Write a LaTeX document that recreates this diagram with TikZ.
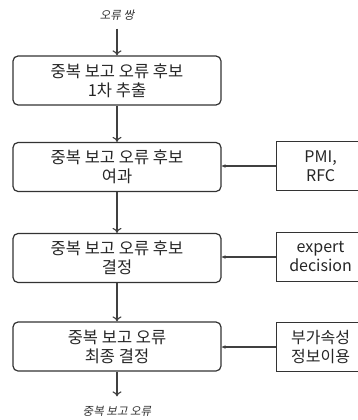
\documentclass[tikz,border=0pt]{standalone}
\usepackage{fontspec}
\setmainfont{Noto Sans CJK KR}
\newfontfamily\krslant[FakeSlant=0.2]{Noto Sans CJK KR}
\usetikzlibrary{arrows.meta}

\begin{document}
\begin{tikzpicture}[x=1pt,y=-1pt,
  stepbox/.style={draw=black!80,line width=1.2pt,rounded corners=5pt,minimum width=208pt,
    minimum height=49pt,align=center,text=black!85,font=\fontsize{16.5}{19}\selectfont},
  infobox/.style={draw=black!80,line width=1.2pt,minimum width=88pt,minimum height=49pt,
    anchor=west,align=center,text=black!85,font=\fontsize{16}{19}\selectfont,
    text width=80pt},
  endlabel/.style={text=black!80,font=\krslant\fontsize{11.5}{13}\selectfont},
  flow/.style={-{To[length=5pt,width=9pt]},draw=black!75,line width=1.1pt},
  feed/.style={-{Stealth[length=4pt,width=3.5pt]},draw=black!75,line width=1.1pt}]
\useasboundingbox (0,0) rectangle (358,420);
\clip (0,0) rectangle (358,420);
\node [endlabel] (pair) at (117,15) {오류 쌍};
\node [stepbox] (first) at (117,80.5) {중복 보고 오류 후보\\1차 추출};
\node [stepbox] (filter) at (117,167) {중복 보고 오류 후보\\여과};
\node [stepbox] (decide) at (117,258) {중복 보고 오류 후보\\결정};
\node [stepbox] (final) at (117,346.5) {중복 보고 오류\\최종 결정};
\node [endlabel] (result) at (117,411) {중복 보고 오류};
\node [infobox] (pmi) at (276,166) {PMI,\\RFC};
\node [infobox] (expert) at (276,257) {expert\\decision};
\node [infobox] (extra) at (276,347) {부가속성\\정보이용};
\draw [flow,shorten <=5pt] (pair.south) -- (first.north);
\draw [flow] (first) -- (filter);
\draw [flow] (filter) -- (decide);
\draw [flow] (decide) -- (final);
\draw [flow,shorten >=6pt] (final.south) -- (result.north);
\draw [feed] (pmi.west) -- (pmi.west -| filter.east);
\draw [feed] (expert.west) -- (expert.west -| decide.east);
\draw [feed] (extra.west) -- (extra.west -| final.east);
\end{tikzpicture}
\end{document}
